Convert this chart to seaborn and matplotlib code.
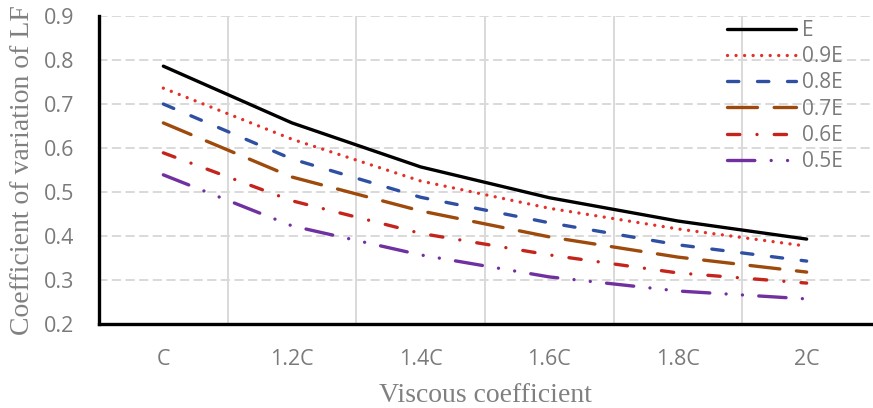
import numpy as np
import pandas as pd
import matplotlib
matplotlib.use("Agg")
import matplotlib.pyplot as plt
import seaborn as sns

# Viscous coefficient levels and coefficient of variation of LF for each modulus case
viscous = ["C", "1.2C", "1.4C", "1.6C", "1.8C", "2C"]
modulus = ["E", "0.9E", "0.8E", "0.7E", "0.6E", "0.5E"]
cv_E = [0.786, 0.657, 0.557, 0.487, 0.434, 0.393]
cv_09E = [0.736, 0.620, 0.525, 0.463, 0.416, 0.377]
cv_08E = [0.700, 0.575, 0.488, 0.430, 0.380, 0.343]
cv_07E = [0.657, 0.534, 0.457, 0.398, 0.352, 0.318]
cv_06E = [0.589, 0.480, 0.406, 0.357, 0.316, 0.293]
cv_05E = [0.539, 0.423, 0.357, 0.307, 0.275, 0.257]

series = [cv_E, cv_09E, cv_08E, cv_07E, cv_06E, cv_05E]
df = pd.DataFrame({
    "viscous": viscous * len(modulus),
    "cv": [v for s in series for v in s],
    "modulus": [m for m in modulus for _ in viscous],
})

sns.set_style("white")
plt.rcParams["lines.dash_capstyle"] = "round"
plt.rcParams["lines.solid_capstyle"] = "round"
plt.rcParams["font.family"] = ["Open Sans", "DejaVu Sans"]

palette = {
    "E": "#000000",
    "0.9E": "#e3312a",
    "0.8E": "#2f4fa3",
    "0.7E": "#9e4a0c",
    "0.6E": "#c4241c",
    "0.5E": "#7030a0",
}
dashes = {
    "E": "",
    "0.9E": (0.01, 2.55),
    "0.8E": (3.4, 5.6),
    "0.7E": (9.0, 5.0),
    "0.6E": (3.7, 5.15, 0.01, 5.15),
    "0.5E": (8.2, 4.9, 0.01, 4.9, 0.01, 4.9),
}

fig = plt.figure(figsize=(8.73, 4.08), dpi=100)
ax = fig.add_axes([99 / 873, 1 - 324 / 408, (871 - 99) / 873, (324 - 16) / 408])

sns.lineplot(data=df, x="viscous", y="cv", hue="modulus", style="modulus",
             hue_order=modulus, style_order=modulus,
             palette=palette, dashes=dashes, linewidth=2.4, sort=False,
             ax=ax, legend=True)

tick_gray = "#7a7a7a"
label_gray = "#808080"

ax.set_xlim(-0.5, 5.5)
ax.set_ylim(0.2, 0.9)
ax.set_xticks(list(range(len(viscous))) + [5.5])
ax.set_xticklabels(viscous + [""])
ax.set_xticks(np.arange(0.5, 5.0, 1.0), minor=True)
ax.set_yticks(np.arange(0.2, 0.91, 0.1))
ax.set_yticklabels([f"{v:.1f}" for v in np.arange(0.2, 0.91, 0.1)])

ax.grid(axis="y", which="major", color="#d9d9d9", linewidth=1.4, linestyle=(0, (4, 3)))
ax.grid(axis="x", which="minor", color="#d9d9d9", linewidth=1.4, linestyle="-")
ax.grid(axis="x", which="major", visible=False)
ax.set_axisbelow(True)

for side in ["top", "right"]:
    ax.spines[side].set_visible(False)
for side in ["left", "bottom"]:
    ax.spines[side].set_color("black")
    ax.spines[side].set_linewidth(2.4)

ax.tick_params(axis="both", which="major", direction="out", length=6, width=2.4,
               color="black", labelsize=15.5, labelcolor=tick_gray)
ax.tick_params(axis="y", which="major", pad=12)
ax.tick_params(axis="x", which="major", pad=12)
ax.tick_params(axis="x", which="minor", length=0)

ax.set_xlabel("Viscous coefficient", family=["Liberation Serif"], fontsize=20,
              color=label_gray, labelpad=9)
ax.set_ylabel("Coefficient of variation of LF", family=["Liberation Serif"], fontsize=20,
              color=label_gray, labelpad=6)

handles, labels = ax.get_legend_handles_labels()
leg = ax.legend(handles, labels, loc="upper left",
                bbox_to_anchor=(727 / 873, 1 - 20 / 408), bbox_transform=fig.transFigure,
                frameon=False, fontsize=15, handlelength=3.3, handletextpad=0.3,
                labelspacing=0.25, borderpad=0, borderaxespad=0)
for t in leg.get_texts():
    t.set_color(tick_gray)
for h in leg.get_lines():
    h.set_linewidth(2.4)

fig.savefig("out.png", dpi=100)
